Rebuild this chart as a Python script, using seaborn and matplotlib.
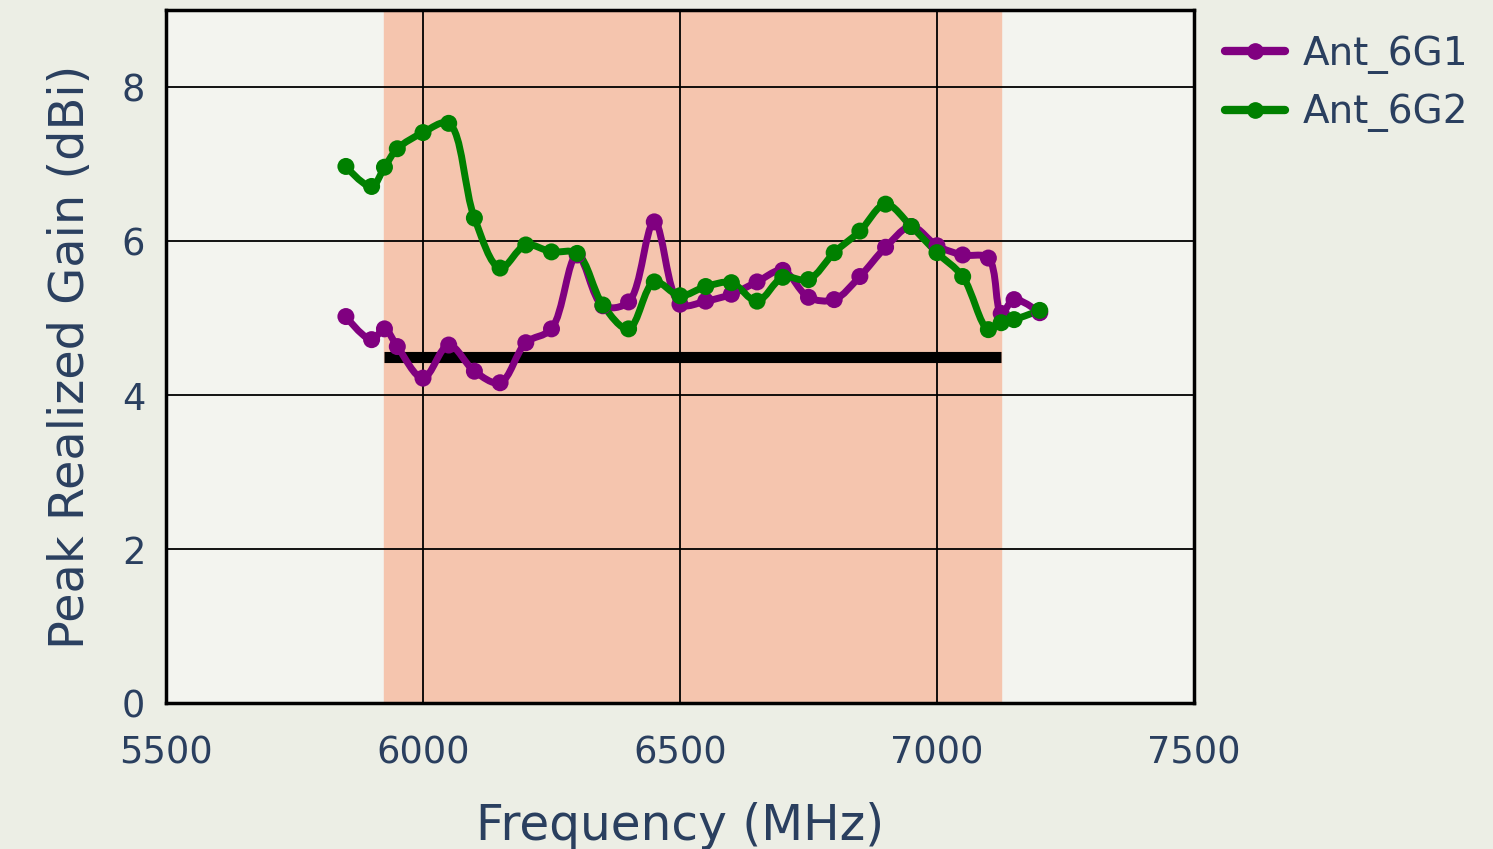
import numpy as np
import pandas as pd
import matplotlib
matplotlib.use("Agg")
import matplotlib.pyplot as plt
import seaborn as sns
from matplotlib.path import Path
from matplotlib.patches import PathPatch
from matplotlib.lines import Line2D

# Dữ liệu
freq = [5850, 5900, 5925, 5950, 6000, 6050, 6100, 6150, 6200, 6250, 6300, 6350,
        6400, 6450, 6500, 6550, 6600, 6650, 6700, 6750, 6800, 6850, 6900, 6950,
        7000, 7050, 7100, 7125, 7150, 7200]
gain_6g1 = [5.02, 4.72, 4.86, 4.63, 4.22, 4.65, 4.31, 4.16, 4.68, 4.86, 5.82, 5.16,
            5.21, 6.25, 5.18, 5.22, 5.31, 5.47, 5.62, 5.27, 5.24, 5.54, 5.92, 6.19,
            5.94, 5.82, 5.78, 5.06, 5.24, 5.07]
gain_6g2 = [6.97, 6.71, 6.96, 7.20, 7.41, 7.53, 6.30, 5.65, 5.95, 5.86, 5.84, 5.17,
            4.86, 5.47, 5.29, 5.41, 5.46, 5.22, 5.53, 5.50, 5.85, 6.13, 6.48, 6.19,
            5.85, 5.54, 4.85, 4.94, 4.98, 5.10]
series_names = ["Ant_6G1", "Ant_6G2"]
series_colors = ["#800080", "#008000"]
band_start, band_end = 5925, 7125
target_gain = 4.5

df = pd.DataFrame({
    "Frequency": freq * 2,
    "Gain": gain_6g1 + gain_6g2,
    "Antenna": [series_names[0]] * len(freq) + [series_names[1]] * len(freq),
})

sns.set_style("white")
plt.rcParams["font.family"] = ["DejaVu Sans"]
text_color = "#2a3f5f"

fig = plt.figure(figsize=(14.93, 8.49), dpi=100)
fig.patch.set_facecolor("#eceee5")
ax = fig.add_axes([0.1112, 0.172, 0.6885, 0.816])
ax.set_facecolor("#f3f4ef")
ax.set_xlim(5500, 7500)
ax.set_ylim(0, 9)

# Vùng băng tần 6E
ax.axvspan(band_start, band_end, color="#f5c5ae", zorder=0)
ax.set_xticks([5500, 6000, 6500, 7000, 7500])
ax.set_yticks([0, 2, 4, 6, 8])
ax.grid(True, color="black", linewidth=1.3, zorder=1)
ax.set_axisbelow(True)

# Đường mục tiêu
ax.plot([band_start, band_end], [target_gain, target_gain], color="black",
        linewidth=8, solid_capstyle="butt", zorder=3)


def make_tangent(p0, p1, p2, s=1.0):
    d1 = p0 - p1
    d2 = p2 - p1
    d1a = np.hypot(*d1) ** 0.5
    d2a = np.hypot(*d2) ** 0.5
    num = (d2a * d2a * d1 - d1a * d1a * d2) * s
    den1 = 3 * d2a * (d1a + d2a)
    den2 = 3 * d1a * (d1a + d2a)
    return p1 + num / den1, p1 - num / den2


def spline_path(xs, ys):
    # đường cong kiểu spline, tính trong toạ độ pixel
    pts = ax.transData.transform(np.column_stack([xs, ys]))
    tans = [make_tangent(pts[i - 1], pts[i], pts[i + 1]) for i in range(1, len(pts) - 1)]
    verts = [pts[0], tans[0][0], pts[1]]
    codes = [Path.MOVETO, Path.CURVE3, Path.CURVE3]
    for i in range(2, len(pts) - 1):
        verts += [tans[i - 2][1], tans[i - 1][0], pts[i]]
        codes += [Path.CURVE4] * 3
    verts += [tans[-1][1], pts[-1]]
    codes += [Path.CURVE3] * 2
    verts = ax.transData.inverted().transform(np.array(verts))
    return Path(verts, codes)


for name, color in zip(series_names, series_colors):
    sub = df[df["Antenna"] == name]
    ax.add_patch(PathPatch(spline_path(sub["Frequency"].values, sub["Gain"].values),
                           facecolor="none", edgecolor=color, linewidth=5,
                           capstyle="round", joinstyle="round", zorder=4))

sns.scatterplot(data=df, x="Frequency", y="Gain", hue="Antenna",
                palette=dict(zip(series_names, series_colors)), s=150,
                edgecolor="none", legend=False, ax=ax, zorder=5)

for sp in ax.spines.values():
    sp.set_color("black")
    sp.set_linewidth(2.5)
    sp.set_zorder(6)

ax.tick_params(axis="both", direction="out", length=9, width=1.2, color="#555555",
               labelsize=26.5, labelcolor=text_color)
ax.tick_params(axis="x", pad=14)
ax.tick_params(axis="y", pad=6)
ax.set_xlabel("Frequency (MHz)", fontsize=35, color=text_color, labelpad=22)
ax.set_ylabel("Peak Realized Gain (dBi)", fontsize=34.5, color=text_color, labelpad=20)

handles = [Line2D([0], [0], color=c, linewidth=6, marker="o", markersize=11)
           for c in series_colors]
fig.legend(handles, series_names, loc="upper left", bbox_to_anchor=(0.797, 1.0),
           frameon=False, fontsize=28, labelcolor=text_color, handlelength=1.55,
           handletextpad=0.45, labelspacing=0.5)

fig.savefig("out.png", dpi=100, facecolor=fig.get_facecolor())
